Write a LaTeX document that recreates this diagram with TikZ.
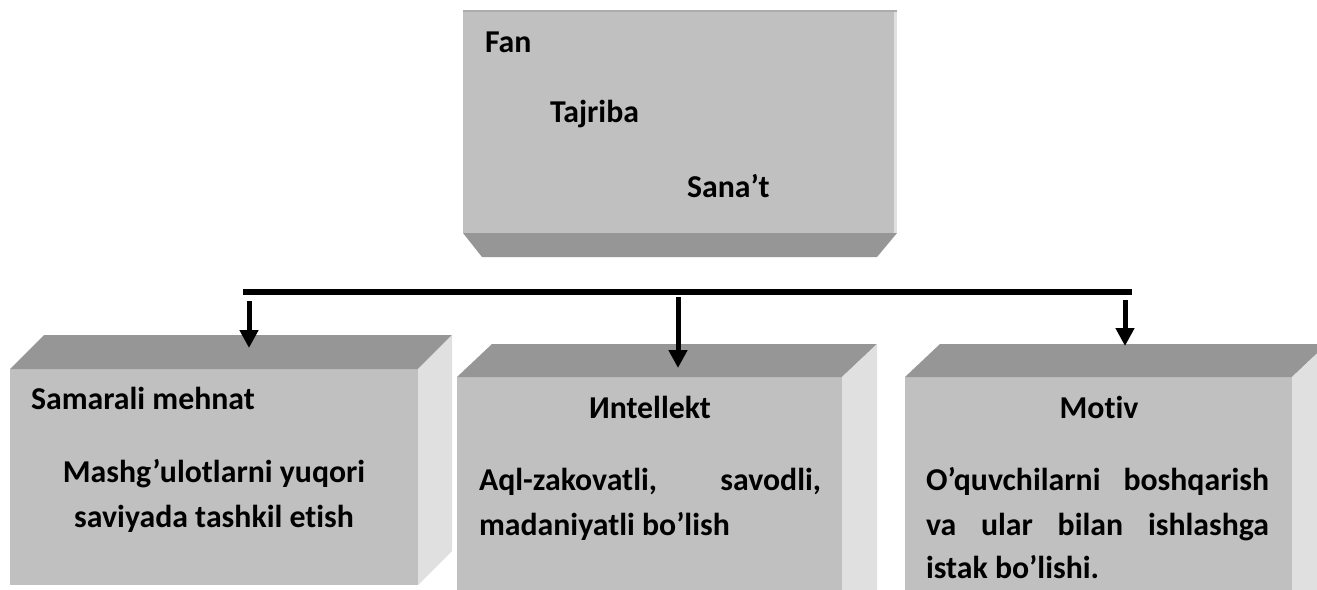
\documentclass[tikz,border=0pt]{standalone}
\usepackage{fontspec}
\setmainfont{Carlito}[Ligatures=NoCommon]
\usetikzlibrary{arrows.meta}
\definecolor{facefront}{RGB}{192,192,192}
\definecolor{facetop}{RGB}{150,150,150}
\definecolor{faceside}{RGB}{224,224,224}
\definecolor{faceedge}{RGB}{172,172,172}

\begin{document}
\begin{tikzpicture}[x=1pt,y=-1pt,
  front/.style={fill=facefront, draw=none, inner sep=0pt, outer sep=0pt, anchor=north west},
  lbl/.style={font=\fontsize{31.8}{45}\selectfont\bfseries, inner sep=0pt, outer sep=0pt},
  branch/.style={line width=6pt},
  drop/.style={line width=5pt, -{Triangle[width=18pt,length=18pt]}}]
\useasboundingbox (0,0) rectangle (1317,589);
\clip (0,0) rectangle (1317,589);
\fill[white] (0,0) rectangle (1317,589);

% upper block with its bevelled lower edge
\node[front, minimum width=434pt, minimum height=223pt] (top) at (463,10) {};
\fill[facetop] (top.south west) -- (top.south east) -- ++(-20,24) -- ++(-395,0) -- cycle;
\fill[faceside] ([xshift=-3pt]top.north east) rectangle (top.south east);
\fill[faceedge] (top.north west) rectangle ([yshift=-2pt]top.north east);
\node[lbl, anchor=base west] (fan) at (485,52) {Fan};
\node[lbl, anchor=base west] (tajriba) at (550,122) {Tajriba};
\node[lbl, anchor=base west] (sanat) at (687,197) {Sana’t};

% three lower blocks: front, top and side faces
\node[front, minimum width=408pt, minimum height=216pt] (b1) at (10,369) {};
\fill[facetop] (b1.north west) -- ++(34,-34) -- ++(408,0) -- (b1.north east) -- cycle;
\fill[faceside] (b1.north east) -- ++(34,-34) -- ++(0,216) -- (b1.south east) -- cycle;

\node[front, minimum width=385pt, minimum height=260pt] (b2) at (457,377) {};
\fill[facetop] (b2.north west) -- ++(35,-33) -- ++(385,0) -- (b2.north east) -- cycle;
\fill[faceside] (b2.north east) -- ++(35,-33) -- ++(0,260) -- (b2.south east) -- cycle;

\node[front, minimum width=387pt, minimum height=260pt] (b3) at (905,377) {};
\fill[facetop] (b3.north west) -- ++(35,-33) -- ++(387,0) -- (b3.north east) -- cycle;
\fill[faceside] (b3.north east) -- ++(35,-33) -- ++(0,260) -- (b3.south east) -- cycle;

% branching line and arrows
\coordinate (busL) at (243,292);
\coordinate (busR) at (1132,292);
\draw[branch] (busL) -- (busR);
\coordinate (s1) at (249,301);  \coordinate (t1) at (249,348);
\coordinate (s2) at (678,297);  \coordinate (t2) at (678,368);
\coordinate (s3) at (1125,300); \coordinate (t3) at (1125,346);
\draw[drop] (s1) -- (t1);
\draw[drop] (s2) -- (t2);
\draw[drop] (s3) -- (t3);

% texts of the lower blocks
\node[lbl, anchor=base west] (m1) at (31,409) {Samarali mehnat};
\node[lbl, anchor=base] (m1a) at (214,482) {Mashg’ulotlarni yuqori};
\node[lbl, anchor=base] (m1b) at (214,527) {saviyada tashkil etish};

\node[lbl, anchor=base] (m2) at (650,418) {Иntellekt};
\node[lbl, anchor=base west] (m2a) at (479,490) {\makebox[342pt][s]{Aql-zakovatli, savodli,}};
\node[lbl, anchor=base west] (m2b) at (479,535) {madaniyatli bo’lish};

\node[lbl, anchor=base] (m3) at (1099,418) {Motiv};
\node[lbl, anchor=base west] (m3a) at (926,490) {\makebox[343pt][s]{O’quvchilarni boshqarish}};
\node[lbl, anchor=base west] (m3b) at (926,535) {\makebox[343pt][s]{va ular bilan ishlashga}};
\node[lbl, anchor=base west] (m3c) at (926,578) {istak bo’lishi.};
\end{tikzpicture}
\end{document}
